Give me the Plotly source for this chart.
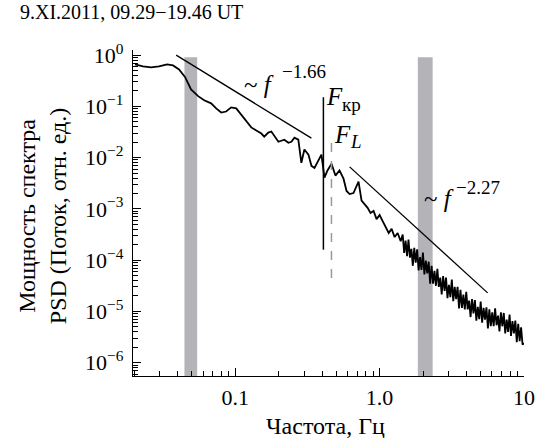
import numpy as np
import plotly.graph_objects as go

# ---- data (log10 values) ----
log10_freq = [
    -1.694, -1.639, -1.583, -1.528, -1.472, -1.431, -1.389, -1.347, -1.306, -1.257,
    -1.215, -1.167, -1.132, -1.097, -1.063, -1.028, -0.993, -0.958, -0.924, -0.889,
    -0.854, -0.819, -0.799, -0.771, -0.750, -0.722, -0.701, -0.681, -0.660, -0.632,
    -0.611, -0.590, -0.563, -0.542, -0.521, -0.493, -0.472, -0.451, -0.424, -0.403,
    -0.382, -0.361, -0.333, -0.306, -0.278, -0.250, -0.229, -0.208, -0.181, -0.160,
    -0.146, -0.125, -0.104, -0.083, -0.063, -0.042, -0.021, 0.000, 0.021, 0.042,
    0.063, 0.083, 0.104, 0.125, 0.146,
    0.16, 0.17, 0.18, 0.19, 0.20, 0.21, 0.22, 0.23, 0.24, 0.25,
    0.26, 0.27, 0.28, 0.29, 0.30, 0.31, 0.32, 0.33, 0.34, 0.35,
    0.36, 0.37, 0.38, 0.39, 0.40, 0.41, 0.42, 0.43, 0.44, 0.45,
    0.46, 0.47, 0.48, 0.49, 0.50, 0.51, 0.52, 0.53, 0.54, 0.55,
    0.56, 0.57, 0.58, 0.59, 0.60, 0.61, 0.62, 0.63, 0.64, 0.65,
    0.66, 0.67, 0.68, 0.69, 0.70, 0.71, 0.72, 0.73, 0.74, 0.75,
    0.76, 0.77, 0.78, 0.79, 0.80, 0.81, 0.82, 0.83, 0.84, 0.85,
    0.86, 0.87, 0.88, 0.89, 0.90, 0.91, 0.92, 0.93, 0.94, 0.95,
    0.96, 0.97, 0.98, 0.99, 1.00,
]
log10_psd = [
    -0.18, -0.22, -0.24, -0.22, -0.18, -0.20, -0.28, -0.43, -0.67, -0.80,
    -0.88, -0.94, -1.04, -1.12, -1.10, -1.02, -1.04, -1.16, -1.29, -1.41,
    -1.47, -1.53, -1.59, -1.51, -1.49, -1.61, -1.69, -1.67, -1.65, -1.71,
    -1.69, -1.61, -1.65, -2.10, -1.84, -1.94, -2.16, -2.20, -2.04, -1.94,
    -2.39, -2.25, -2.12, -2.35, -2.25, -2.41, -2.65, -2.71, -2.69, -2.57,
    -2.47, -2.84, -2.90, -2.98, -3.08, -3.04, -3.20, -3.12, -3.24, -3.35,
    -3.47, -3.39, -3.55, -3.47, -3.63,
    -3.50, -3.86, -3.62, -3.92, -3.60, -3.95, -3.78, -4.11, -3.76, -4.05,
    -3.79, -4.20, -3.94, -4.19, -3.85, -4.28, -4.01, -4.26, -4.03, -4.46,
    -4.11, -4.46, -4.21, -4.50, -4.17, -4.52, -4.34, -4.67, -4.31, -4.60,
    -4.34, -4.74, -4.48, -4.72, -4.38, -4.80, -4.52, -4.76, -4.52, -4.94,
    -4.58, -4.93, -4.67, -4.96, -4.62, -4.96, -4.79, -5.11, -4.76, -5.04,
    -4.78, -5.18, -4.91, -5.15, -4.81, -5.22, -4.93, -5.16, -4.92, -5.33,
    -4.96, -5.29, -5.02, -5.29, -4.94, -5.27, -5.08, -5.39, -5.02, -5.29,
    -5.03, -5.43, -5.16, -5.40, -5.06, -5.48, -5.19, -5.43, -5.18, -5.60,
    -5.24, -5.58, -5.31, -5.65, -5.62,
]

fit1_freq = [0.039, 0.337]
fit1_psd = [1.0, 0.024]
fit2_freq = [0.62, 5.6]
fit2_psd = [6.6e-3, 2.3e-5]

f_kr = 0.408
f_kr_psd = [0.151, 1.6e-4]
f_L = 0.464
f_L_psd = [0.0193, 3.6e-5]

band1 = [0.0445, 0.0545]
band2 = [1.84, 2.33]
band_top = 0.91

x_range_log = [-1.708, 1.0]
y_range_log = [-6.26, 0.10]
band_bottom = 10 ** y_range_log[0]

x_tickvals = [0.1, 1, 10]
x_ticktext = ["0.1", "1.0", "10"]
y_tickvals = [1, 1e-1, 1e-2, 1e-3, 1e-4, 1e-5, 1e-6]
y_ticktext = ["10<sup>0</sup>", "10<sup>−1</sup>", "10<sup>−2</sup>", "10<sup>−3</sup>",
              "10<sup>−4</sup>", "10<sup>−5</sup>", "10<sup>−6</sup>"]

FONT = "Liberation Serif"
BAND = "#b3b3b8"

freq = 10 ** np.array(log10_freq)
psd = 10 ** np.array(log10_psd)

fig = go.Figure()

for b in (band1, band2):
    fig.add_trace(go.Scatter(
        x=[b[0], b[1], b[1], b[0], b[0]],
        y=[band_bottom, band_bottom, band_top, band_top, band_bottom],
        fill="toself", fillcolor=BAND, line=dict(width=0), mode="lines",
        hoverinfo="skip", showlegend=False))

fig.add_trace(go.Scatter(x=freq, y=psd, mode="lines",
                         line=dict(color="black", width=1.8), showlegend=False))

fig.add_trace(go.Scatter(x=fit1_freq, y=fit1_psd, mode="lines",
                         line=dict(color="black", width=1.3), showlegend=False))
fig.add_trace(go.Scatter(x=fit2_freq, y=fit2_psd, mode="lines",
                         line=dict(color="black", width=1.3), showlegend=False))
fig.add_trace(go.Scatter(x=[f_kr, f_kr], y=f_kr_psd, mode="lines",
                         line=dict(color="black", width=1.5), showlegend=False))
fig.add_trace(go.Scatter(x=[f_L, f_L], y=f_L_psd, mode="lines",
                         line=dict(color="#999999", width=1.5, dash="dash"), showlegend=False))

# minor tick positions (2..9 per decade)
minor_x = [m * 10.0 ** e for e in range(-2, 1) for m in range(2, 10)]
minor_y = [m * 10.0 ** e for e in range(-7, 0) for m in range(2, 10)]

tickfont = dict(family=FONT, size=22, color="black")
fig.update_xaxes(type="log", range=x_range_log, showgrid=False, zeroline=False,
                 showline=True, linecolor="black", linewidth=1.3, automargin=False,
                 ticks="inside", ticklen=8, tickwidth=1.2, tickcolor="black",
                 tickmode="array", tickvals=x_tickvals, ticktext=x_ticktext,
                 tickfont=tickfont, ticklabelstandoff=1,
                 minor=dict(ticks="inside", ticklen=5, tickwidth=1.1, tickcolor="black",
                            tickmode="array", tickvals=minor_x, showgrid=False))
fig.update_yaxes(type="log", range=y_range_log, showgrid=False, zeroline=False,
                 showline=True, linecolor="black", linewidth=1.3, automargin=False,
                 ticks="inside", ticklen=8, tickwidth=1.2, tickcolor="black",
                 tickmode="array", tickvals=y_tickvals, ticktext=y_ticktext,
                 tickfont=tickfont, ticklabelstandoff=4,
                 minor=dict(ticks="inside", ticklen=5, tickwidth=1.1, tickcolor="black",
                            tickmode="array", tickvals=minor_y, showgrid=False))

big = dict(family=FONT, size=25, color="black")
small = dict(family=FONT, size=19, color="black")
ann = [
    dict(x=-0.837, y=-0.565, text="~ <i>f</i>", font=big),
    dict(x=-0.526, y=-0.312, text="−1.66", font=small),
    dict(x=-0.311, y=-0.799, text="<i>F</i>", font=big),
    dict(x=-0.194, y=-0.955, text="кр", font=small),
    dict(x=-0.256, y=-1.540, text="<i>F</i>", font=big),
    dict(x=-0.166, y=-1.676, text="<i>L</i>", font=small),
    dict(x=0.408, y=-2.788, text="~ <i>f</i>", font=big),
    dict(x=0.678, y=-2.573, text="−2.27", font=small),
]
for a in ann:
    fig.add_annotation(xref="x", yref="y", showarrow=False, xanchor="center",
                       yanchor="middle", **a)

fig.add_annotation(xref="paper", yref="paper", x=-0.295, y=1.117, xanchor="left",
                   yanchor="middle", showarrow=False, font=dict(family=FONT, size=20, color="black"),
                   text="9.XI.2011, 09.29−19.46 UT")
fig.add_annotation(xref="paper", yref="paper", x=-0.233, y=0.49, xanchor="center",
                   yanchor="middle", showarrow=False, textangle=-90,
                   font=dict(family=FONT, size=24, color="black"),
                   text="Мощность спектра<br>PSD (Поток, отн. ед.)")
fig.add_annotation(xref="paper", yref="paper", x=0.492, y=-0.153, xanchor="center",
                   yanchor="middle", showarrow=False, font=dict(family=FONT, size=24, color="black"),
                   text="Частота, Гц")

fig.update_layout(width=539, height=438, margin=dict(l=133, r=15, t=50, b=62),
                  paper_bgcolor="white", plot_bgcolor="white", showlegend=False)

fig.write_html("out.html", config={"displayModeBar": False},
               post_script="document.body.style.margin='0';")
